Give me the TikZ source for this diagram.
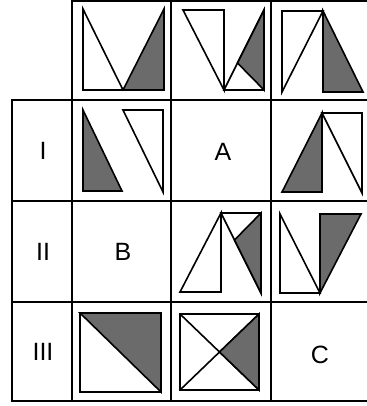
\documentclass[tikz,border=0pt]{standalone}
\usepackage{fontspec}
\setmainfont{Liberation Sans}
\usepackage{tikz}

\begin{document}
\begin{tikzpicture}[
      x=1pt, y=-1pt,
      rule/.style={line width=1.5pt, line cap=rect},
      fig/.style={draw, line width=1.6pt, fill=white},
      dark/.style={draw, line width=1.6pt, fill=black!58},
      lbl/.style={font=\fontsize{25}{30}\selectfont, inner sep=0pt}
    ]
      \useasboundingbox (0,0) rectangle (366,406);
      % table lines
      \draw[rule] (72,1) -- (366,1);
      \draw[rule] (12,100) -- (366,100);
      \draw[rule] (12,201) -- (366,201);
      \draw[rule] (12,302) -- (366,302);
      \draw[rule] (12,401) -- (366,401);
      \draw[rule] (12,100) -- (12,401);
      \draw[rule] (72,1) -- (72,401);
      \draw[rule] (171,1) -- (171,401);
      \draw[rule] (271,1) -- (271,401);
      % header row
      \draw[fig] (83,9) -- (83,90) -- (123,90) -- cycle;
      \draw[dark] (123,90) -- (164,90) -- (164,9) -- cycle;
      \draw[fig] (183,10) -- (224,10) -- (224,90) -- cycle;
      \draw[fig] (224,90) -- (264,90) -- (264,10) -- cycle;
      \draw[dark] (237.5,63) -- (264,10) -- (264,90) -- cycle;
      \draw[fig] (282,11) -- (323,11) -- (282,92) -- cycle;
      \draw[dark] (323,11) -- (323,92) -- (363,92) -- cycle;
      % row I
      \node[lbl] (rowI) at (43,151) {I};
      \draw[dark] (83,110) -- (83,191) -- (122,191) -- cycle;
      \draw[fig] (123,110) -- (163,110) -- (163,192) -- cycle;
      \node[lbl] (cellA) at (223,152) {A};
      \draw[dark] (322,113) -- (282,192) -- (322,192) -- cycle;
      \draw[fig] (322,113) -- (362,113) -- (362,193) -- cycle;
      % row II
      \node[lbl] (rowII) at (43,252) {II};
      \node[lbl] (cellB) at (123,252) {B};
      \draw[fig] (180,292) -- (221,213) -- (221,292) -- cycle;
      \draw[fig] (221,213) -- (261,213) -- (261,293) -- cycle;
      \draw[dark] (234.5,240) -- (261,213) -- (261,293) -- cycle;
      \draw[fig] (280,214) -- (280,293) -- (320,293) -- cycle;
      \draw[dark] (320,214) -- (361,214) -- (320,293) -- cycle;
      % row III
      \node[lbl] (rowIII) at (43,352) {III};
      \draw[fig] (80,313) rectangle (161,392);
      \draw[dark] (80,313) -- (161,313) -- (161,392) -- cycle;
      \draw[fig] (180,314) rectangle (259,390);
      \draw[line width=1.6pt] (180,314) -- (259,390) (180,390) -- (259,314);
      \draw[dark] (259,314) -- (259,390) -- (219.5,352) -- cycle;
      \node[lbl] (cellC) at (320,355) {C};
\end{tikzpicture}
\end{document}
